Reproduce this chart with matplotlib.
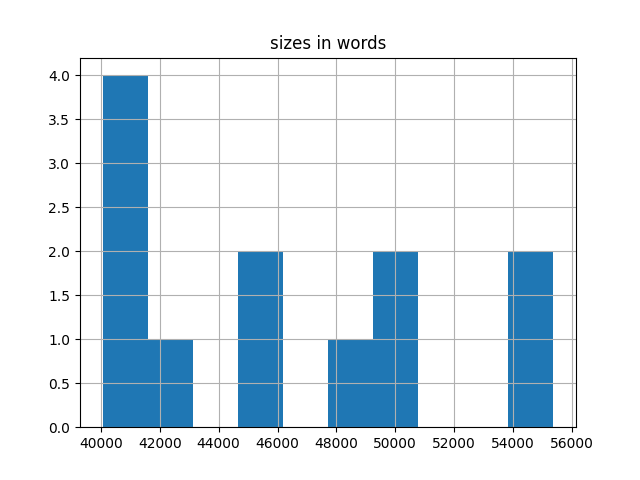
import matplotlib
matplotlib.use("Agg")
import matplotlib.pyplot as plt

# word counts per document
sizes_in_words = [40055, 40500, 41000, 41400,
                  42500,
                  45000, 45800,
                  48500,
                  49800, 50400,
                  54500, 55376]

fig, ax = plt.subplots(figsize=(6.4, 4.8), dpi=100)
ax.hist(sizes_in_words, bins=10)
ax.grid(True)
ax.set_title("sizes in words")
fig.savefig("out.png")
